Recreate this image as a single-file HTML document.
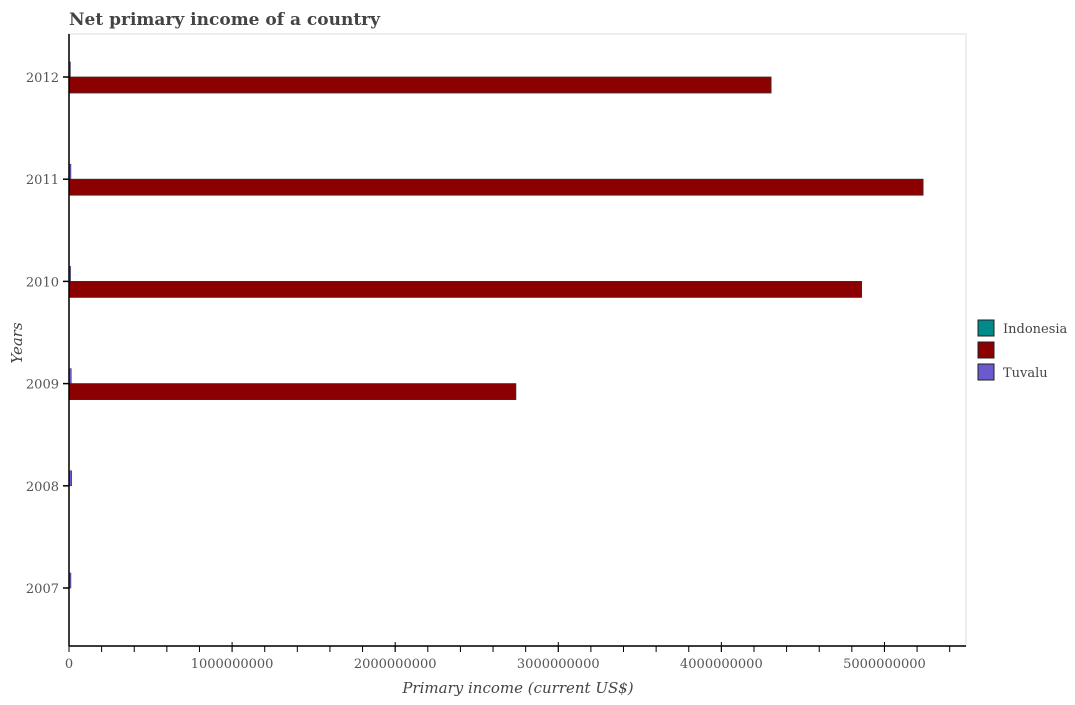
<!DOCTYPE html>
<html><head><meta charset="utf-8"><style>
body{margin:0;background:#fff;}
svg{font-family:"DejaVu Serif","Liberation Serif",serif;}
</style></head><body>
<svg width="1075" height="700" xmlns="http://www.w3.org/2000/svg">
<text x="69" y="25" font-size="17" font-weight="bold" fill="#444">Net primary income of a country</text>
<rect x="69" y="34" width="897" height="612" fill="none" stroke="#eee" stroke-width="2"/>
<g id="bars"></g>
<g id="axes"></g>
<text x="518" y="693" font-size="15" font-style="italic" fill="#444" text-anchor="middle">Primary income (current US$)</text>
<text transform="translate(22,343) rotate(-90)" font-size="15" font-style="italic" fill="#444" text-anchor="middle">Years</text>
<g>
<rect x="978" y="320" width="16" height="16" fill="#008b8b" stroke="#222"/>
<text x="1003" y="333" font-size="13" fill="#444">Indonesia</text>
<rect x="978" y="342" width="16" height="16" fill="#8b0000" stroke="#222"/>
<rect x="978" y="364" width="16" height="16" fill="#6a5acd" stroke="#222"/>
<text x="1003" y="377" font-size="13" fill="#444">Tuvalu</text>
</g>
</svg>
<script>
const years = ["2007","2008","2009","2010","2011","2012"];
const indonesia = [0,0,0,0,0,0];
const seriesRed = [0,0,2740000000,4860000000,5237000000,4305000000];
const tuvalu = [12000000,17000000,14000000,10000000,12000000,9000000];
const xTicks = [0,1000000000,2000000000,3000000000,4000000000,5000000000];
const NS="http://www.w3.org/2000/svg";
const x0=69, x1=966, xMax=5500000000;
const sx=v=>x0+(v/xMax)*(x1-x0);
const sy=i=>588-i*102.2;
const bars=document.getElementById('bars'), axes=document.getElementById('axes');
function mk(tag,attrs,parent){const e=document.createElementNS(NS,tag);for(const k in attrs)e.setAttribute(k,attrs[k]);parent.appendChild(e);return e;}
years.forEach((y,i)=>{
  const c=sy(i);
  if(tuvalu[i]>0){const r=mk('rect',{x:x0,y:c-15,width:Math.max(sx(tuvalu[i])-x0,1),height:15,fill:'#6a5acd',stroke:'#333','stroke-width':0.5},bars);
  
  }
  if(seriesRed[i]>0){const r=mk('rect',{x:x0,y:c,width:sx(seriesRed[i])-x0,height:16,fill:'#8b0000',stroke:'#333','stroke-width':0.8},bars);
  
  }
  mk('line',{x1:x0-6,x2:x0,y1:c,y2:c,stroke:'#000','stroke-width':1.5},axes);
  const t=mk('text',{x:x0-10,y:c+5,'font-size':13,fill:'#555','text-anchor':'end'},axes);
  t.textContent=y;
  
  
});
mk('line',{x1:x0,x2:x0,y1:34,y2:646,stroke:'#000','stroke-width':1.5},axes);
mk('line',{x1:x0,x2:x1,y1:646,y2:646,stroke:'#000','stroke-width':1.5},axes);
for(let v=0;v<=xMax;v+=200000000){const px=sx(v);mk('line',{x1:px,x2:px,y1:646,y2:652,stroke:'#000','stroke-width':1},axes);}
xTicks.forEach(v=>{const px=sx(v);mk('line',{x1:px,x2:px,y1:642,y2:652,stroke:'#000','stroke-width':1},axes);
  const t=mk('text',{x:px,y:668,'font-size':13,fill:'#555','text-anchor':'middle'},axes);
  t.textContent=String(v);
  
  });
</script>
</body></html>
